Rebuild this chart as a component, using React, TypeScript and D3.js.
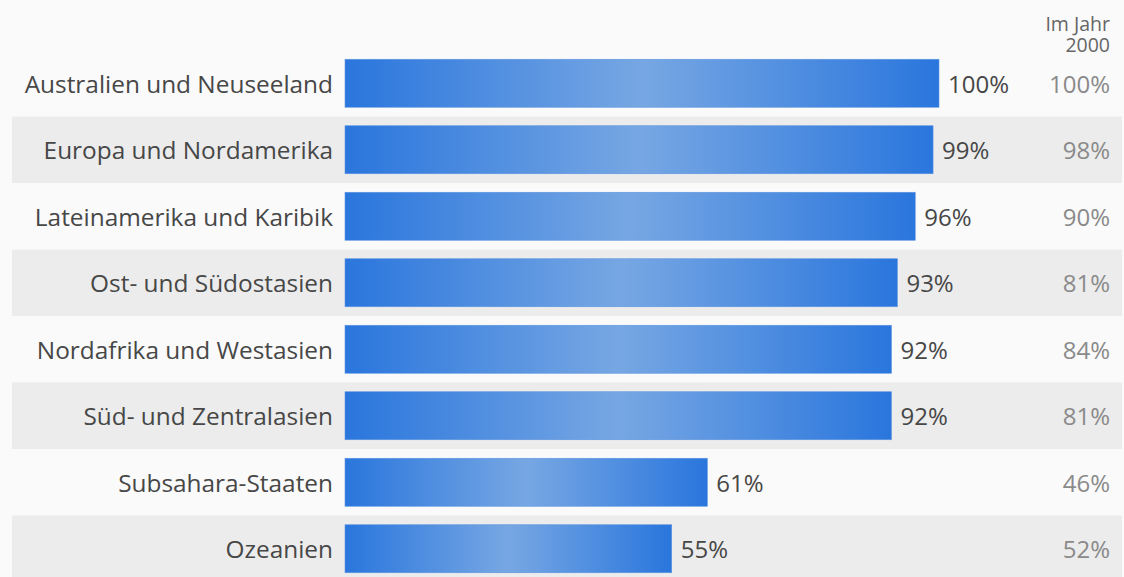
import React from "react";
import * as d3 from "d3";

const categories = [
  "Australien und Neuseeland",
  "Europa und Nordamerika",
  "Lateinamerika und Karibik",
  "Ost- und Südostasien",
  "Nordafrika und Westasien",
  "Süd- und Zentralasien",
  "Subsahara-Staaten",
  "Ozeanien",
];
const values2019 = [100, 99, 96, 93, 92, 92, 61, 55];
const values2000 = [100, 98, 90, 81, 84, 81, 46, 52];
const headerLines = ["Im Jahr", "2000"];

const W = 1124;
const H = 577;
const FONT = "'Open Sans', 'Noto Sans', sans-serif";

export default function App() {
  const x = d3.scaleLinear().domain([0, 100]).range([345, 939]);
  const y = d3.scaleBand<string>().domain(categories).range([50, 50 + 8 * 66.5]).padding(0);
  const barH = 48;
  const bw = y.bandwidth();

  return (
    <svg
      width={W}
      height={H}
      style={{ position: "absolute", left: 0, top: 0, background: "#fafafa" }}
      fontFamily={FONT}
    >
      <defs>
        <linearGradient id="barGrad" x1="0" x2="1" y1="0" y2="0">
          <stop offset="0%" stopColor="#2a76dd" />
          <stop offset="50%" stopColor="#77a7e3" />
          <stop offset="100%" stopColor="#2a76dd" />
        </linearGradient>
      </defs>
      <rect x={0} y={0} width={W} height={H} fill="#fafafa" />
      {categories.map((c, i) =>
        i % 2 === 1 ? (
          <rect key={"bg" + c} x={12} y={y(c)!} width={1110} height={bw} fill="#ececec" />
        ) : null
      )}
      <text x={1110} y={30.5} textAnchor="end" fontSize={19.5} fill="#666">
        {headerLines.map((t, i) => (
          <tspan key={t} x={1110} dy={i === 0 ? 0 : 21.5}>
            {t}
          </tspan>
        ))}
      </text>
      {categories.map((c, i) => {
        const cy = y(c)! + bw / 2 + 1;
        return (
          <g key={c}>
            <text x={333} y={cy} dy="0.35em" textAnchor="end" fontSize={24.4} fill="#474747">
              {c}
            </text>
            <rect
              x={x(0)}
              y={cy - 1 - barH / 2}
              width={x(values2019[i]) - x(0)}
              height={barH}
              fill="url(#barGrad)"
              stroke="#5d95e0"
              strokeWidth={0.6}
            />
            <text x={x(values2019[i]) + 9} y={cy} dy="0.35em" fontSize={24} fill="#474747">
              {values2019[i]}%
            </text>
            <text x={1110} y={cy} dy="0.35em" textAnchor="end" fontSize={24} fill="#8a8a8a">
              {values2000[i]}%
            </text>
          </g>
        );
      })}
    </svg>
  );
}
